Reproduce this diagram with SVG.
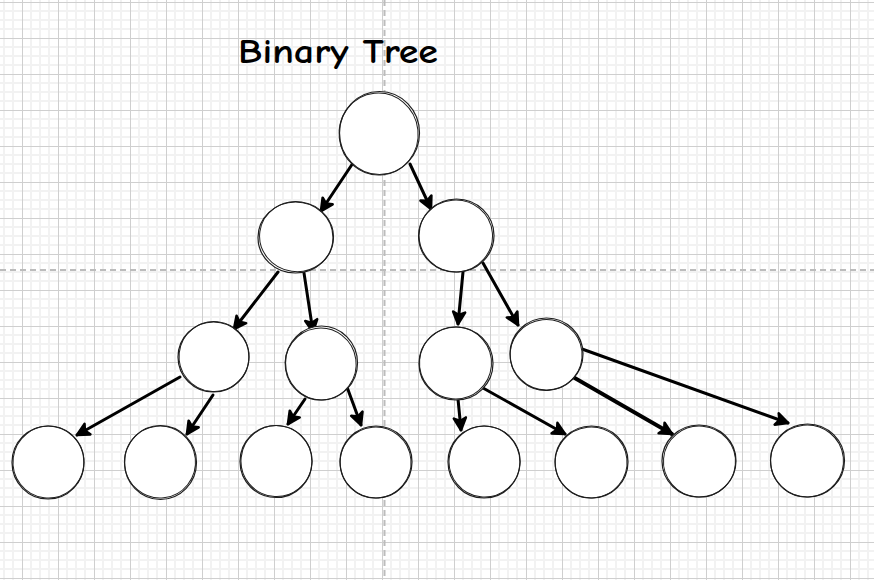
<svg xmlns="http://www.w3.org/2000/svg" width="874" height="580" viewBox="0 0 874 580">
<defs>
<pattern id="grid" x="22" y="2" width="36" height="36" patternUnits="userSpaceOnUse">
<path d="M9,0V36M18,0V36M27,0V36M0,9H36M0,18H36M0,27H36" stroke="#f2f2f2" stroke-width="2" fill="none"/>
<path d="M0.5,0V36M0,0.5H36" stroke="#cfcfcf" stroke-width="1" fill="none"/>
</pattern>
<marker id="ah" markerUnits="userSpaceOnUse" viewBox="-16 -10 20 20" markerWidth="20" markerHeight="20" refX="0" refY="0" orient="auto">
<path d="M-12,-6 L0,0 L-12,6 L-9,0 Z" fill="#000" stroke="#000" stroke-width="2.6" stroke-linejoin="round" stroke-linecap="round"/>
</marker>
<style>
.n ellipse{fill:#fff;stroke:#1e1e1e;stroke-width:1.2}
.n ellipse+ellipse{fill:none;stroke-width:1}
.c line{stroke:#000;stroke-width:3;stroke-linecap:round;marker-end:url(#ah)}
</style>
</defs>
<rect width="874" height="580" fill="#fff"/>
<rect width="874" height="580" fill="url(#grid)"/>
<path d="M384.5,0V580M0,270H874" stroke="#bcbcbc" stroke-width="2" stroke-dasharray="6 4" fill="none"/>
<text x="238" y="63" font-family="'Comic Neue','Liberation Sans',sans-serif" font-size="35" font-weight="bold" fill="#000" textLength="200" lengthAdjust="spacingAndGlyphs">Binary Tree</text>
<g id="connectors" class="c">
<line x1="353" y1="163" x2="321" y2="211"/>
<line x1="410" y1="164" x2="431" y2="209"/>
<line x1="278" y1="272" x2="234" y2="329"/>
<line x1="304" y1="273" x2="313" y2="332"/>
<line x1="463" y1="272" x2="458" y2="324"/>
<line x1="483" y1="263" x2="518" y2="325"/>
<line x1="180" y1="377" x2="77" y2="435"/>
<line x1="213" y1="395" x2="187" y2="434"/>
<line x1="305" y1="399" x2="288" y2="424"/>
<line x1="347" y1="387" x2="361" y2="425"/>
<line x1="458" y1="399" x2="461" y2="430"/>
<line x1="483" y1="388" x2="565" y2="434"/>
<line x1="573" y1="377" x2="672" y2="434" style="stroke-width:3.8"/>
<line x1="582" y1="349" x2="788" y2="423"/>
</g>
<g id="root" class="n"><ellipse cx="379.5" cy="133" rx="40" ry="41.5"/><ellipse cx="378.5" cy="134" rx="39.5" ry="41" transform="rotate(-6 379 133)"/></g>
<g id="n2l" class="n"><ellipse cx="295.5" cy="237.5" rx="37.5" ry="35.5"/><ellipse cx="296.5" cy="236.5" rx="37" ry="35" transform="rotate(8 296 237)"/></g>
<g id="n2r" class="n"><ellipse cx="456.5" cy="235.5" rx="37.5" ry="36.5"/><ellipse cx="455.5" cy="236" rx="37" ry="36" transform="rotate(-5 456 236)"/></g>
<g id="n3a" class="n"><ellipse cx="213.5" cy="357" rx="35.5" ry="35"/><ellipse cx="214" cy="356.5" rx="35" ry="35" transform="rotate(6 214 357)"/></g>
<g id="n3b" class="n"><ellipse cx="321.5" cy="363" rx="36" ry="37"/><ellipse cx="320.5" cy="364" rx="35.5" ry="36" transform="rotate(-8 321 363)"/></g>
<g id="n3c" class="n"><ellipse cx="456" cy="363.5" rx="37" ry="36.5"/><ellipse cx="455.5" cy="363" rx="36" ry="36" transform="rotate(5 456 363)"/></g>
<g id="n3d" class="n"><ellipse cx="546.5" cy="354" rx="36.5" ry="36"/><ellipse cx="546" cy="355" rx="36" ry="35.5" transform="rotate(-6 546 354)"/></g>
<g id="l1" class="n"><ellipse cx="48" cy="462.5" rx="36" ry="36.5"/><ellipse cx="48.5" cy="462" rx="35.5" ry="36" transform="rotate(7 48 462)"/></g>
<g id="l2" class="n"><ellipse cx="160.5" cy="462.5" rx="36" ry="37"/><ellipse cx="160" cy="462" rx="35.5" ry="36" transform="rotate(-6 160 462)"/></g>
<g id="l3" class="n"><ellipse cx="276" cy="461.5" rx="36" ry="36"/><ellipse cx="276.5" cy="461" rx="35.5" ry="35.5" transform="rotate(6 276 461)"/></g>
<g id="l4" class="n"><ellipse cx="376" cy="462" rx="36" ry="36"/><ellipse cx="375.5" cy="462.5" rx="35.5" ry="35.5" transform="rotate(-5 376 462)"/></g>
<g id="l5" class="n"><ellipse cx="484" cy="462" rx="36" ry="36"/><ellipse cx="484.5" cy="461.5" rx="35.5" ry="35.5" transform="rotate(6 484 462)"/></g>
<g id="l6" class="n"><ellipse cx="591.5" cy="462" rx="36.5" ry="36"/><ellipse cx="591" cy="462.5" rx="36" ry="35.5" transform="rotate(-6 591 462)"/></g>
<g id="l7" class="n"><ellipse cx="699" cy="461" rx="37" ry="36"/><ellipse cx="699.5" cy="461.5" rx="36" ry="35.5" transform="rotate(5 699 461)"/></g>
<g id="l8" class="n"><ellipse cx="807.5" cy="460.5" rx="37" ry="36.5"/><ellipse cx="807" cy="461" rx="36.5" ry="36" transform="rotate(-6 807 461)"/></g>
</svg>
